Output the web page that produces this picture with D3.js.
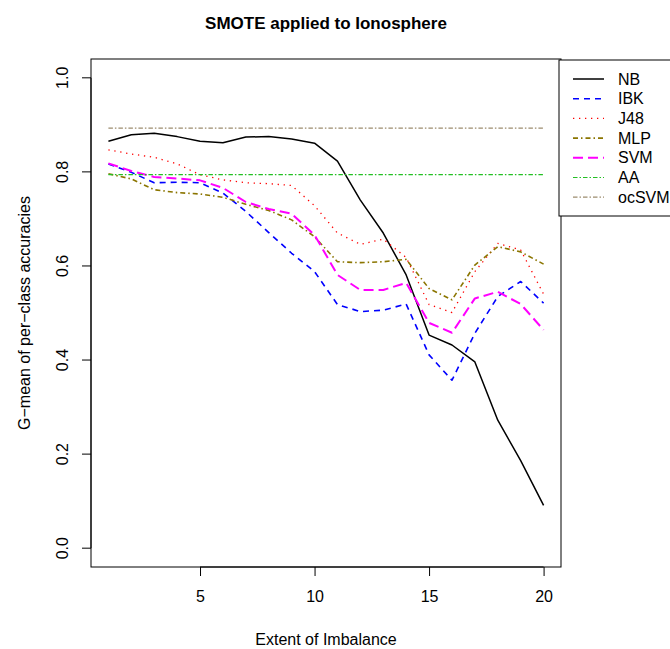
<!DOCTYPE html>
<html>
<head>
<meta charset="utf-8">
<script src="https://cdn.jsdelivr.net/npm/d3@7"></script>
<style>
  html, body { margin: 0; padding: 0; background: #fff; }
  svg text { font-family: "Liberation Sans", Arial, Helvetica, sans-serif; }
</style>
</head>
<body>
<svg id="chart" width="670" height="649"></svg>
<script>
// Extent of imbalance (x) and G-mean per classifier
const extent = [1,2,3,4,5,6,7,8,9,10,11,12,13,14,15,16,17,18,19,20];
const NB  = [0.865,0.879,0.882,0.875,0.865,0.862,0.874,0.875,0.870,0.861,0.823,0.740,0.670,0.581,0.453,0.432,0.396,0.272,0.186,0.091];
const IBK = [0.817,0.799,0.777,0.778,0.777,0.755,0.716,0.671,0.627,0.588,0.518,0.503,0.506,0.519,0.411,0.357,0.457,0.535,0.567,0.521];
const J48 = [0.847,0.838,0.831,0.817,0.794,0.783,0.777,0.775,0.771,0.728,0.670,0.646,0.657,0.618,0.518,0.501,0.588,0.648,0.634,0.540];
const MLP = [0.796,0.785,0.762,0.756,0.753,0.746,0.731,0.718,0.698,0.662,0.609,0.607,0.609,0.614,0.552,0.528,0.602,0.641,0.630,0.604];
const SVM = [0.818,0.802,0.789,0.786,0.782,0.766,0.736,0.721,0.711,0.666,0.581,0.549,0.549,0.564,0.479,0.458,0.531,0.545,0.519,0.464];
const AA    = extent.map(() => 0.794);
const ocSVM = extent.map(() => 0.893);

const xTicks = [5, 10, 15, 20];
const yTicks = [0.0, 0.2, 0.4, 0.6, 0.8, 1.0];

const seriesNames = ["NB", "IBK", "J48", "MLP", "SVM", "AA", "ocSVM"];
const seriesValues = [NB, IBK, J48, MLP, SVM, AA, ocSVM];
const styles = {
  NB:    { color: "#000000", dash: null,            width: 1.5 },
  IBK:   { color: "#0000FF", dash: "6,5",           width: 1.6 },
  J48:   { color: "#FF0000", dash: "1.3,4.7",       width: 1.3 },
  MLP:   { color: "#8B7500", dash: "5,3,1.5,3",     width: 1.6 },
  SVM:   { color: "#FF00FF", dash: "10,5",          width: 2.0 },
  AA:    { color: "#22C022", dash: "4.5,2,1.5,2",   width: 1.2 },
  ocSVM: { color: "#9C8C6E", dash: "4.5,2,1.5,2",   width: 1.2 }
};

const FS = 16;
const svg = d3.select("#chart");
const plot = { left: 91, right: 561, top: 59, bottom: 567 };

// R-style 4% padding on both axes
const x = d3.scaleLinear().domain([1 - 0.76, 20 + 0.76]).range([plot.left, plot.right]);
const y = d3.scaleLinear().domain([-0.04, 1.04]).range([plot.bottom, plot.top]);

// Lines
const line = d3.line().x((d, i) => x(extent[i])).y(d => y(d));
seriesNames.forEach((name, k) => {
  const s = styles[name];
  svg.append("path")
    .datum(seriesValues[k])
    .attr("d", line)
    .attr("fill", "none")
    .attr("stroke", s.color)
    .attr("stroke-width", s.width)
    .attr("stroke-dasharray", s.dash)
    .attr("stroke-linejoin", "round");
});

// Plot frame
svg.append("rect")
  .attr("x", plot.left).attr("y", plot.top)
  .attr("width", plot.right - plot.left).attr("height", plot.bottom - plot.top)
  .attr("fill", "none").attr("stroke", "#000").attr("stroke-width", 1);

// Axes
const xAxis = d3.axisBottom(x).tickValues(xTicks).tickSize(9).tickPadding(15).tickFormat(d3.format("d"));
const gx = svg.append("g").attr("transform", `translate(0,${plot.bottom})`).call(xAxis);
gx.select(".domain").attr("d", `M${x(xTicks[0])},0H${x(xTicks[xTicks.length-1])}`);
gx.selectAll("text").attr("font-size", FS).attr("fill", "#000");

const yAxis = d3.axisLeft(y).tickValues(yTicks).tickSize(9).tickFormat(d3.format(".1f"));
const gy = svg.append("g").attr("transform", `translate(${plot.left},0)`).call(yAxis);
gy.select(".domain").attr("d", `M0,${y(yTicks[0])}V${y(yTicks[yTicks.length-1])}`);
gy.selectAll(".tick").attr("transform", "translate(0,0)");
gy.selectAll(".tick line").attr("y1", d => y(d)).attr("y2", d => y(d));
gy.selectAll("text")
  .attr("font-size", FS).attr("fill", "#000")
  .attr("x", null).attr("y", 0)
  .attr("text-anchor", "middle")
  .attr("transform", d => `translate(${-29},${y(d)}) rotate(-90)`)
  .attr("dy", "0.35em");

// Titles
svg.append("text")
  .attr("x", (plot.left + plot.right) / 2).attr("y", 29)
  .attr("text-anchor", "middle").attr("font-size", 17).attr("font-weight", "bold")
  .text("SMOTE applied to Ionosphere");
svg.append("text")
  .attr("x", (plot.left + plot.right) / 2).attr("y", 645)
  .attr("text-anchor", "middle").attr("font-size", FS)
  .text("Extent of Imbalance");
svg.append("text")
  .attr("transform", `translate(24,${(plot.top + plot.bottom) / 2}) rotate(-90)`)
  .attr("text-anchor", "middle").attr("dy", "0.35em").attr("font-size", FS)
  .text("G\u2212mean of per\u2212class accuracies");

// Legend
const legend = svg.append("g");
legend.append("rect")
  .attr("x", 559).attr("y", 60).attr("width", 130).attr("height", 156)
  .attr("fill", "#fff").attr("stroke", "#000").attr("stroke-width", 1);
seriesNames.forEach((name, k) => {
  const s = styles[name];
  const ly = 79 + k * 19.7;
  legend.append("line")
    .attr("x1", 573).attr("x2", 604).attr("y1", ly).attr("y2", ly)
    .attr("stroke", s.color).attr("stroke-width", s.width)
    .attr("stroke-dasharray", s.dash);
  legend.append("text")
    .attr("x", 618).attr("y", ly).attr("dy", "0.35em")
    .attr("font-size", FS).text(name);
});
</script>
</body>
</html>
